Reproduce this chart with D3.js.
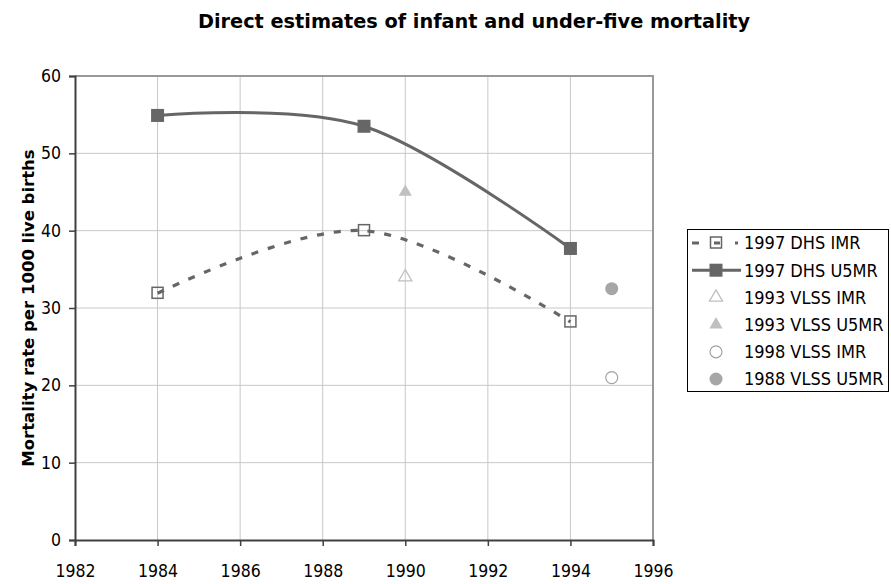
<!DOCTYPE html>
<html><head><meta charset="utf-8">
<script src="https://cdn.jsdelivr.net/npm/d3@7"></script>
<style>body{margin:0;background:#fff;}svg{display:block;}</style>
</head><body>
<svg id="chart" width="891" height="584"></svg>
<script>
const xTicks = [1982, 1984, 1986, 1988, 1990, 1992, 1994, 1996];
const yTicks = [0, 10, 20, 30, 40, 50, 60];
const dhsYears = [1984, 1989, 1994];
const dhsIMR = [31.9, 40.0, 28.2];
const dhsU5MR = [54.9, 53.5, 37.7];
const vlss93Year = [1990];
const vlss93IMR = [34.0];
const vlss93U5MR = [45.0];
const vlss98Year = [1995];
const vlss98IMR = [21.0];
const vlss88U5MR = [32.5];
const legendLabels = ["1997 DHS IMR", "1997 DHS U5MR", "1993 VLSS IMR", "1993 VLSS U5MR", "1998 VLSS IMR", "1988 VLSS U5MR"];

const svg = d3.select("#chart");
const L = 75, R = 653, T = 76, B = 540;
const x = d3.scaleLinear().domain([1982, 1996]).range([L, R]);
const y = d3.scaleLinear().domain([0, 60]).range([B, T]);
const font = "'DejaVu Sans', Verdana, sans-serif";
const cfont = "'DejaVu Sans Condensed', 'DejaVu Sans', sans-serif";
const dark = "#666666", light = "#c0c0c0", lightFill = "#a6a6a6";

// title
svg.append("text").attr("x", 474).attr("y", 28).attr("text-anchor", "middle")
  .attr("font-family", font).attr("font-weight", "bold").attr("font-size", 19.3)
  .attr("fill", "#000").text("Direct estimates of infant and under-five mortality");

// gridlines
const grid = svg.append("g");
grid.selectAll("line.v").data(xTicks.slice(1)).join("line")
  .attr("x1", d => x(d)).attr("x2", d => x(d)).attr("y1", T).attr("y2", B)
  .attr("stroke", "#c8c8c8").attr("stroke-width", 1);
grid.selectAll("line.h").data(yTicks.slice(1)).join("line")
  .attr("x1", L).attr("x2", R).attr("y1", d => y(d)).attr("y2", d => y(d))
  .attr("stroke", "#c8c8c8").attr("stroke-width", 1);
// frame top/right
svg.append("path").attr("d", `M${L},${T}H${R}V${B}`).attr("fill", "none")
  .attr("stroke", "#999").attr("stroke-width", 2);

// axes
const xAxis = d3.axisBottom(x).tickValues(xTicks).tickFormat(d3.format("d")).tickSize(6).tickPadding(31);
const gx = svg.append("g").attr("transform", `translate(0,${B})`).call(xAxis);
const yAxis = d3.axisLeft(y).tickValues(yTicks).tickSize(6).tickPadding(8);
const gy = svg.append("g").attr("transform", `translate(${L},0)`).call(yAxis);
[gx, gy].forEach(g => {
  g.select(".domain").attr("stroke", "#404040").attr("stroke-width", 2);
  g.selectAll(".tick line").attr("stroke", "#404040").attr("stroke-width", 1.5);
  g.selectAll(".tick text").attr("font-family", cfont).attr("font-size", 17.5).attr("fill", "#000");
});
gx.selectAll(".tick text").attr("dy", "0");

// y label
svg.append("text").attr("transform", `translate(34,${(T + B) / 2}) rotate(-90)`)
  .attr("text-anchor", "middle").attr("font-family", font).attr("font-weight", "bold")
  .attr("font-size", 16.5).attr("fill", "#000").text("Mortality rate per 1000 live births");

const line = d3.line().x(d => x(d[0])).y(d => y(d[1])).curve(d3.curveCardinal.tension(0));
const imrPts = dhsYears.map((yr, i) => [yr, dhsIMR[i]]);
const u5Pts = dhsYears.map((yr, i) => [yr, dhsU5MR[i]]);

svg.append("path").datum(imrPts).attr("d", line).attr("fill", "none")
  .attr("stroke", dark).attr("stroke-width", 3.2).attr("stroke-dasharray", "7,10");
svg.append("path").datum(u5Pts).attr("d", line).attr("fill", "none")
  .attr("stroke", dark).attr("stroke-width", 3);

const sqS = 12;
svg.selectAll("rect.imr").data(imrPts).join("rect")
  .attr("x", d => x(d[0]) - sqS / 2 + 0.5).attr("y", d => y(d[1]) - sqS / 2)
  .attr("width", sqS - 1).attr("height", sqS - 1)
  .attr("fill", "none").attr("stroke", dark).attr("stroke-width", 1.5);
svg.selectAll("rect.u5").data(u5Pts).join("rect")
  .attr("x", d => x(d[0]) - 6.5).attr("y", d => y(d[1]) - 6.5)
  .attr("width", 13).attr("height", 13).attr("fill", dark);

const tri = d3.symbol().type(d3.symbolTriangle).size(75);
svg.selectAll("path.t1").data(vlss93Year.map((yr, i) => [yr, vlss93IMR[i]])).join("path")
  .attr("transform", d => `translate(${x(d[0])},${y(d[1])})`).attr("d", tri())
  .attr("fill", "none").attr("stroke", light).attr("stroke-width", 1.3);
svg.selectAll("path.t2").data(vlss93Year.map((yr, i) => [yr, vlss93U5MR[i]])).join("path")
  .attr("transform", d => `translate(${x(d[0])},${y(d[1])})`).attr("d", tri())
  .attr("fill", light);
svg.selectAll("circle.c1").data(vlss98Year.map((yr, i) => [yr, vlss98IMR[i]])).join("circle")
  .attr("cx", d => x(d[0])).attr("cy", d => y(d[1])).attr("r", 6)
  .attr("fill", "none").attr("stroke", "#a0a0a0").attr("stroke-width", 1.2);
svg.selectAll("circle.c2").data(vlss98Year.map((yr, i) => [yr, vlss88U5MR[i]])).join("circle")
  .attr("cx", d => x(d[0])).attr("cy", d => y(d[1])).attr("r", 6.5)
  .attr("fill", lightFill);

// legend
const lg = svg.append("g");
lg.append("rect").attr("x", 687.5).attr("y", 229.5).attr("width", 201).attr("height", 162)
  .attr("fill", "#fff").attr("stroke", "#000").attr("stroke-width", 1);
const rowY = i => 243 + i * 27.2;
const sx = 716;
legendLabels.forEach((lab, i) => {
  lg.append("text").attr("x", 744).attr("y", rowY(i)).attr("dy", "0.36em")
    .attr("font-family", cfont).attr("font-size", 18).attr("fill", "#000").text(lab);
});
lg.append("line").attr("x1", 692).attr("x2", 741).attr("y1", rowY(0)).attr("y2", rowY(0))
  .attr("stroke", dark).attr("stroke-width", 3).attr("stroke-dasharray", "7,15,6,15,3");
lg.append("rect").attr("x", sx - 5.5).attr("y", rowY(0) - 6).attr("width", 11).attr("height", 11)
  .attr("fill", "none").attr("stroke", dark).attr("stroke-width", 1.5);
lg.append("line").attr("x1", 692).attr("x2", 741).attr("y1", rowY(1)).attr("y2", rowY(1))
  .attr("stroke", dark).attr("stroke-width", 3);
lg.append("rect").attr("x", sx - 6.5).attr("y", rowY(1) - 6.5).attr("width", 13).attr("height", 13).attr("fill", dark);
lg.append("path").attr("transform", `translate(${sx},${rowY(2)})`).attr("d", tri())
  .attr("fill", "none").attr("stroke", light).attr("stroke-width", 1.3);
lg.append("path").attr("transform", `translate(${sx},${rowY(3)})`).attr("d", tri()).attr("fill", light);
lg.append("circle").attr("cx", sx).attr("cy", rowY(4)).attr("r", 6)
  .attr("fill", "none").attr("stroke", "#a0a0a0").attr("stroke-width", 1.2);
lg.append("circle").attr("cx", sx).attr("cy", rowY(5)).attr("r", 6.5).attr("fill", lightFill);
</script>
</body></html>
